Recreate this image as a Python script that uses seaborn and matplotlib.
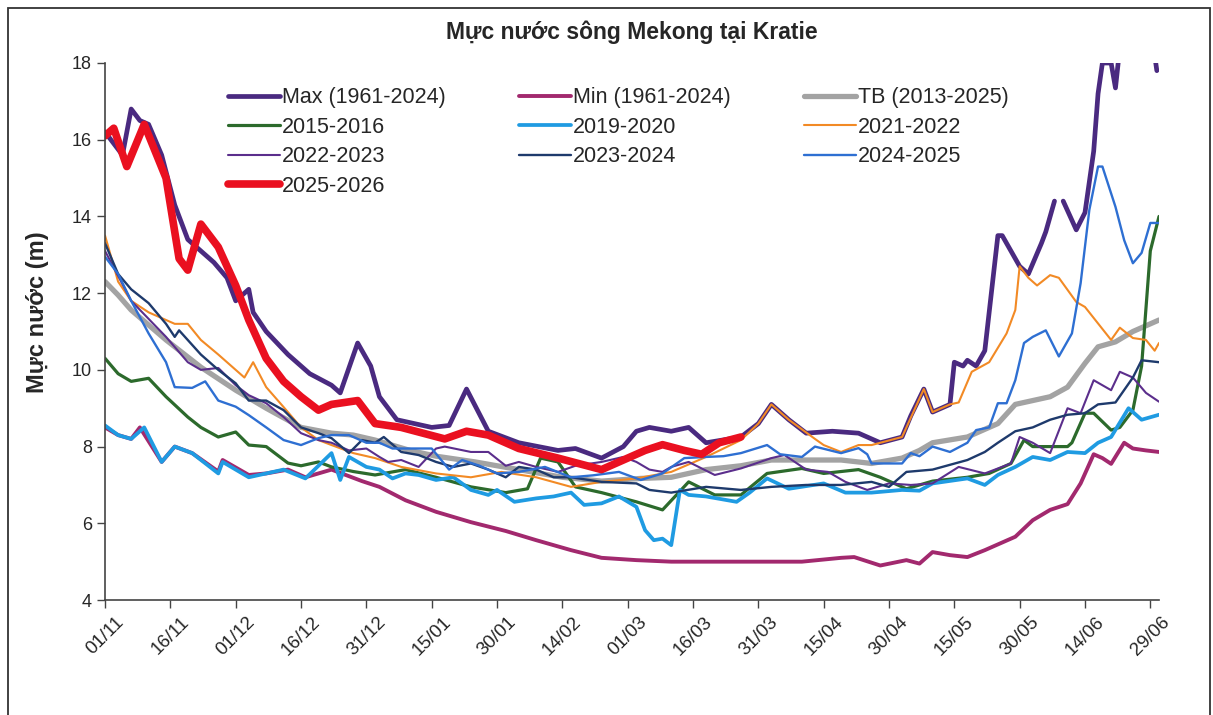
import matplotlib
matplotlib.use("Agg")
import matplotlib.pyplot as plt
import seaborn as sns

# ngày tính từ 01/11 (0 = 01/11)
x_labels = ['01/11', '16/11', '01/12', '16/12', '31/12', '15/01', '30/01', '14/02', '01/03',
            '16/03', '31/03', '15/04', '30/04', '15/05', '30/05', '14/06', '29/06']

# Max (1961-2024) - có 1 đoạn đứt quãng
max_days_a = [0, 4, 6, 8, 10, 13, 16, 19, 22, 25, 28, 30, 33, 34, 37, 42, 47, 52, 54, 58,
              61, 63, 67, 75, 79, 83, 88, 95, 104, 108, 114, 119, 122, 125, 130, 134, 138, 146, 150, 153,
              157, 161, 167, 173, 176, 178, 183, 185, 188, 190, 194, 195, 197, 198, 200, 202, 205, 206, 210, 212,
              215, 216, 218]
max_a = [16.2, 15.6, 16.8, 16.5, 16.4, 15.6, 14.3, 13.4, 13.1, 12.8, 12.4, 11.8, 12.1, 11.5, 11.0, 10.4, 9.9, 9.6, 9.4, 10.7,
         10.1, 9.3, 8.7, 8.5, 8.55, 9.5, 8.4, 8.1, 7.9, 7.95, 7.7, 8.0, 8.4, 8.5, 8.4, 8.5, 8.1, 8.25, 8.6, 9.1,
         8.7, 8.35, 8.4, 8.35, 8.2, 8.1, 8.25, 8.8, 9.5, 8.9, 9.1, 10.2, 10.1, 10.25, 10.1, 10.5, 13.5, 13.5, 12.7, 12.5,
         13.3, 13.6, 14.4]
max_days_b = [220, 223, 225, 227, 228, 229, 231, 232, 233, 236, 240, 241.5]
max_b = [14.4, 13.65, 14.1, 15.7, 17.2, 18.0, 18.0, 17.35, 18.4, 19.5, 19.0, 17.8]

# Min (1961-2024)
min_days = [0, 3, 6, 8, 13, 16, 20, 26, 27, 33, 37, 42, 46, 52, 59, 63, 69, 76, 84, 92,
            99, 107, 114, 122, 130, 140, 150, 160, 169, 172, 178, 184, 187, 190, 194, 198, 202, 206, 209, 213,
            217, 221, 224, 227, 229, 231, 234, 236, 239, 242]
min_vals = [8.5, 8.3, 8.2, 8.5, 7.6, 8.0, 7.83, 7.35, 7.65, 7.26, 7.3, 7.4, 7.2, 7.4, 7.1, 6.95, 6.6, 6.3, 6.03, 5.8,
            5.56, 5.3, 5.1, 5.04, 5.0, 5.0, 5.0, 5.0, 5.1, 5.12, 4.9, 5.04, 4.95, 5.25, 5.17, 5.12, 5.3, 5.5, 5.65, 6.08,
            6.35, 6.5, 7.04, 7.8, 7.7, 7.55, 8.1, 7.95, 7.9, 7.86]

# TB (2013-2025)
tb_days = [0, 3, 6, 14, 22, 30, 37, 45, 52, 57, 62, 70, 76, 85, 95, 105, 114, 123, 130, 138,
           146, 153, 161, 169, 176, 183, 187, 190, 198, 205, 209, 217, 221, 225, 228, 232, 236, 242]
tb_vals = [12.3, 11.95, 11.56, 10.78, 10.07, 9.47, 9.0, 8.5, 8.35, 8.3, 8.17, 7.9, 7.75, 7.6, 7.4, 7.2, 7.1, 7.17, 7.2, 7.4,
           7.5, 7.65, 7.65, 7.65, 7.56, 7.7, 7.9, 8.1, 8.25, 8.6, 9.1, 9.3, 9.55, 10.17, 10.6, 10.73, 11.0, 11.3]

# 2015-2016
y1516_days = [0, 3, 6, 10, 14, 19, 22, 26, 30, 33, 37, 42, 45, 49, 52, 57, 62, 69, 76, 84,
              92, 97, 100, 104, 108, 114, 122, 128, 134, 140, 146, 152, 160, 165, 173, 178, 184, 190, 198, 203,
              208, 211, 213, 221, 222, 225, 227, 231, 233, 236, 238, 240, 242]
y1516 = [10.3, 9.9, 9.7, 9.78, 9.3, 8.77, 8.5, 8.25, 8.38, 8.04, 8.0, 7.57, 7.5, 7.6, 7.47, 7.35, 7.26, 7.4, 7.2, 6.95,
         6.8, 6.9, 7.7, 7.6, 6.95, 6.8, 6.56, 6.35, 7.08, 6.74, 6.74, 7.3, 7.43, 7.3, 7.4, 7.2, 6.9, 7.1, 7.2, 7.3,
         7.56, 8.17, 8.0, 8.0, 8.1, 8.87, 8.87, 8.43, 8.5, 8.95, 10.1, 13.1, 14.0]

# 2019-2020
y1920_days = [0, 3, 6, 9, 13, 16, 20, 26, 27, 33, 37, 41, 46, 52, 54, 56, 60, 63, 66, 69,
              72, 76, 80, 84, 88, 90, 94, 99, 103, 107, 110, 114, 118, 122, 124, 126, 128, 130, 132, 134,
              138, 145, 148, 152, 157, 165, 170, 176, 183, 187, 190, 198, 202, 205, 209, 213, 217, 221, 225, 228,
              231, 235, 238, 242]
y1920 = [8.55, 8.3, 8.2, 8.5, 7.6, 8.0, 7.83, 7.3, 7.6, 7.2, 7.3, 7.4, 7.17, 7.83, 7.13, 7.73, 7.47, 7.4, 7.17, 7.3,
         7.26, 7.13, 7.2, 6.87, 6.74, 6.87, 6.56, 6.65, 6.7, 6.8, 6.48, 6.52, 6.7, 6.43, 5.82, 5.56, 5.6, 5.43, 6.87, 6.74,
         6.7, 6.56, 6.8, 7.17, 6.9, 7.04, 6.8, 6.8, 6.87, 6.85, 7.04, 7.17, 7.0, 7.26, 7.47, 7.73, 7.65, 7.86, 7.83, 8.1,
         8.25, 9.0, 8.7, 8.83]

# 2021-2022
y2122_days = [0, 3, 6, 10, 16, 19, 22, 26, 32, 34, 37, 41, 45, 49, 52, 57, 62, 68, 76, 84,
              91, 99, 107, 114, 122, 130, 138, 146, 150, 153, 157, 163, 165, 169, 173, 176, 183, 188, 190, 194,
              196, 199, 203, 207, 209, 210, 212, 214, 217, 219, 223, 225, 231, 233, 236, 239, 241, 242]
y2122 = [13.5, 12.3, 11.8, 11.5, 11.2, 11.2, 10.78, 10.4, 9.8, 10.2, 9.55, 9.03, 8.5, 8.17, 8.04, 7.83, 7.7, 7.47, 7.3, 7.2,
         7.34, 7.2, 6.95, 7.08, 7.17, 7.34, 7.73, 8.17, 8.6, 9.1, 8.7, 8.2, 8.04, 7.86, 8.04, 8.04, 8.25, 9.5, 8.9, 9.1,
         9.15, 9.95, 10.2, 10.95, 11.56, 12.7, 12.4, 12.2, 12.47, 12.4, 11.77, 11.64, 10.78, 11.1, 10.83, 10.78, 10.5, 10.7]

# 2022-2023
y2223_days = [0, 6, 14, 19, 22, 26, 30, 33, 37, 41, 45, 49, 52, 56, 60, 63, 65, 68, 72, 76,
              78, 84, 88, 92, 95, 99, 104, 108, 114, 119, 122, 125, 128, 130, 134, 140, 146, 153, 156, 161,
              166, 170, 175, 180, 185, 190, 196, 202, 208, 210, 213, 217, 221, 224, 227, 231, 233, 236, 239, 242]
y2223 = [13.1, 11.8, 10.86, 10.2, 10.0, 10.05, 9.6, 9.34, 9.13, 8.77, 8.35, 8.17, 8.1, 7.9, 7.95, 7.73, 7.6, 7.65, 7.47, 7.95,
         8.0, 7.86, 7.86, 7.5, 7.6, 7.47, 7.34, 7.5, 7.6, 7.73, 7.6, 7.4, 7.34, 7.47, 7.6, 7.26, 7.43, 7.7, 7.78, 7.4,
         7.34, 7.08, 6.87, 7.04, 7.0, 7.04, 7.47, 7.3, 7.56, 8.25, 8.1, 7.83, 9.0, 8.87, 9.73, 9.47, 9.95, 9.8, 9.4, 9.17]

# 2023-2024
y2324_days = [0, 3, 6, 10, 14, 16, 17, 22, 26, 30, 33, 37, 41, 45, 49, 52, 56, 59, 62, 64,
              68, 72, 76, 80, 84, 88, 92, 95, 99, 103, 107, 114, 122, 125, 130, 138, 146, 153, 161, 169,
              176, 180, 184, 190, 198, 202, 205, 209, 213, 217, 221, 225, 228, 232, 236, 238, 242]
y2324 = [13.3, 12.5, 12.1, 11.74, 11.2, 10.86, 11.03, 10.4, 10.0, 9.65, 9.2, 9.2, 8.95, 8.5, 8.35, 8.22, 7.83, 8.17, 8.1, 8.25,
         7.86, 7.78, 7.6, 7.47, 7.56, 7.4, 7.2, 7.47, 7.4, 7.2, 7.2, 7.08, 7.04, 6.87, 6.8, 6.95, 6.87, 6.95, 7.0, 7.0,
         7.08, 6.95, 7.34, 7.4, 7.65, 7.86, 8.1, 8.4, 8.5, 8.7, 8.83, 8.87, 9.1, 9.15, 9.8, 10.25, 10.2]

# 2024-2025
y2425_days = [0, 3, 6, 10, 14, 16, 20, 23, 26, 30, 33, 37, 41, 45, 49, 52, 56, 60, 63, 66,
              71, 75, 79, 82, 86, 90, 95, 101, 107, 112, 118, 123, 128, 133, 138, 142, 146, 152, 155, 160,
              163, 169, 173, 175, 176, 183, 185, 187, 190, 194, 198, 200, 203, 205, 207, 209, 211, 213, 216, 219,
              222, 224, 226, 228, 229, 232, 234, 236, 238, 240, 242]
y2425 = [12.95, 12.5, 11.8, 10.95, 10.2, 9.55, 9.53, 9.7, 9.2, 9.04, 8.82, 8.5, 8.17, 8.04, 8.22, 8.3, 8.3, 8.1, 8.1, 7.95,
         7.95, 7.95, 7.4, 7.65, 7.5, 7.3, 7.34, 7.47, 7.2, 7.25, 7.34, 7.13, 7.3, 7.7, 7.73, 7.75, 7.83, 8.04, 7.8, 7.73,
         8.0, 7.83, 7.96, 7.8, 7.56, 7.56, 7.83, 7.75, 8.0, 7.86, 8.1, 8.43, 8.5, 9.13, 9.13, 9.73, 10.7, 10.86, 11.03, 10.35,
         10.95, 12.26, 14.17, 15.3, 15.3, 14.25, 13.38, 12.78, 13.05, 13.83, 13.83]

# 2025-2026 (năm hiện tại)
y2526_days = [0, 2, 5, 9, 14, 17, 19, 22, 26, 30, 33, 37, 41, 45, 49, 52, 58, 62, 68, 78,
              83, 88, 95, 104, 114, 119, 124, 128, 133, 137, 141, 146]
y2526 = [16.1, 16.3, 15.3, 16.4, 15.0, 12.9, 12.6, 13.8, 13.2, 12.2, 11.3, 10.3, 9.7, 9.3, 8.95, 9.1, 9.2, 8.6, 8.5, 8.2,
         8.4, 8.3, 7.95, 7.7, 7.4, 7.65, 7.9, 8.05, 7.9, 7.8, 8.1, 8.25]

# (nhãn, ngày, giá trị, màu, độ dày)
series = [
    ('Max (1961-2024)', max_days_a, max_a, '#4a2a80', 3.4),
    ('Min (1961-2024)', min_days, min_vals, '#a2296e', 2.8),
    ('TB (2013-2025)', tb_days, tb_vals, '#a3a3a3', 3.8),
    ('2015-2016', y1516_days, y1516, '#2c6a2c', 2.3),
    ('2019-2020', y1920_days, y1920, '#1f9be2', 2.7),
    ('2021-2022', y2122_days, y2122, '#f28a25', 1.5),
    ('2022-2023', y2223_days, y2223, '#5b2e8c', 1.5),
    ('2023-2024', y2324_days, y2324, '#1e3a6c', 1.7),
    ('2024-2025', y2425_days, y2425, '#2e6fd2', 1.7),
    ('2025-2026', y2526_days, y2526, '#ea1020', 5.5),
]

sns.set_style('ticks')
plt.rcParams['font.family'] = ['Liberation Sans', 'DejaVu Sans']

fig = plt.figure(figsize=(12.13, 7.15), dpi=100)
ax = fig.add_axes([0.0866, 0.1608, 0.8689, 0.7511])

for lab, d, v, c, lw in series:
    sns.lineplot(x=d, y=v, ax=ax, color=c, linewidth=lw, label=lab,
                 estimator=None, sort=False)
    if lab.startswith('Max'):
        sns.lineplot(x=max_days_b, y=max_b, ax=ax, color=c, linewidth=lw,
                     estimator=None, sort=False)

ax.set_xlim(0, 242)
ax.set_ylim(4, 18)
ax.set_xticks(range(0, 241, 15))
ax.set_xticklabels(x_labels, rotation=45, fontsize=13.5)
ax.set_yticks(range(4, 19, 2))
ax.tick_params(axis='y', labelsize=13, length=6, width=1, color='#444444')
ax.tick_params(axis='x', length=6, width=1, color='#444444')
ax.set_xlabel('')
ax.set_ylabel('Mực nước (m)', fontsize=17, fontweight='bold')
ax.yaxis.set_label_coords(-0.053, 0.536)
ax.set_title('Mực nước sông Mekong tại Kratie', fontsize=16.5, fontweight='bold', pad=17)
sns.despine(ax=ax)
for s in ['left', 'bottom']:
    ax.spines[s].set_color('#444444')
    ax.spines[s].set_linewidth(1.2)

# sắp lại thứ tự chú thích theo hàng
h, l = ax.get_legend_handles_labels()
order = [0, 3, 6, 9, 1, 4, 7, 2, 5, 8]
ax.legend([h[i] for i in order], [l[i] for i in order], ncol=3, frameon=False,
          loc='upper left', bbox_to_anchor=(0.117, 0.955), fontsize=15.5,
          handlelength=2.4, handletextpad=0.1, columnspacing=3.4,
          labelspacing=0.4, borderpad=0, borderaxespad=0)

# khung viền ngoài
fig.add_artist(plt.Rectangle((8 / 1213, -0.05), 1202 / 1213, 1.05 - 8 / 715,
                             transform=fig.transFigure, fill=False,
                             edgecolor='#333333', linewidth=1.3))

fig.savefig('out.png', dpi=100)
